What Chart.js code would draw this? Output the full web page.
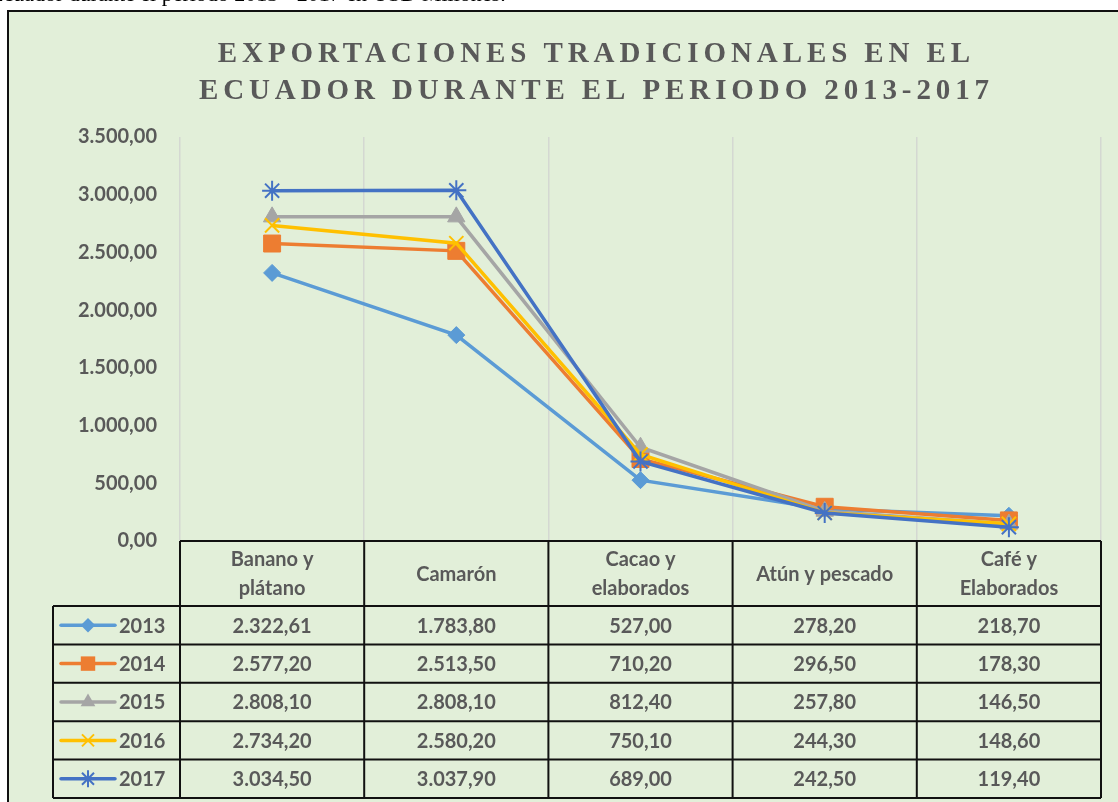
<!DOCTYPE html>
<html>
<head>
<meta charset="utf-8">
<script src="https://cdn.jsdelivr.net/npm/chart.js@4/dist/chart.umd.min.js"></script>
<style>
  html, body { margin: 0; padding: 0; background: #ffffff; }
  #wrap { position: relative; width: 1118px; height: 802px; }
</style>
</head>
<body>
<div id="wrap"><canvas id="c" width="1118" height="802"></canvas></div>
<script>
// ---------- data ----------
const categories = [["Banano y", "plátano"], ["Camarón"], ["Cacao y", "elaborados"], ["Atún y pescado"], ["Café y", "Elaborados"]];
const years = ["2013", "2014", "2015", "2016", "2017"];
const v2013 = [2322.61, 1783.80, 527.00, 278.20, 218.70];
const v2014 = [2577.20, 2513.50, 710.20, 296.50, 178.30];
const v2015 = [2808.10, 2808.10, 812.40, 257.80, 146.50];
const v2016 = [2734.20, 2580.20, 750.10, 244.30, 148.60];
const v2017 = [3034.50, 3037.90, 689.00, 242.50, 119.40];
const yTicks = [0, 500, 1000, 1500, 2000, 2500, 3000, 3500];
const titleLines = ["EXPORTACIONES TRADICIONALES EN EL", "ECUADOR DURANTE EL PERIODO 2013-2017"];
const topCaption = "Ecuador durante el periodo 2013 - 2017 en USD Millones.";

const seriesValues = [v2013, v2014, v2015, v2016, v2017];
const colors = ["#5B9BD5", "#ED7D31", "#A5A5A5", "#FFC000", "#4472C4"];
const pStyles = ["rectRot", "rect", "triangle", "crossRot", "star"];
const pRadius = [8.5, 12, 10, 10, 10];

function fmt(v) {
  const neg = v < 0;
  const s = Math.abs(v).toFixed(2);
  let [i, d] = s.split(".");
  i = i.replace(/\B(?=(\d{3})+(?!\d))/g, ".");
  return (neg ? "-" : "") + i + "," + d;
}

const FONT = '"Lato", "Open Sans", sans-serif';
const TXT = "#595959";

function drawMarker(ctx, style, x, y, r, color) {
  ctx.save();
  ctx.fillStyle = color; ctx.strokeStyle = color; ctx.lineWidth = 2;
  ctx.beginPath();
  if (style === "rectRot") {
    ctx.moveTo(x, y - r); ctx.lineTo(x + r, y); ctx.lineTo(x, y + r); ctx.lineTo(x - r, y); ctx.closePath(); ctx.fill();
  } else if (style === "rect") {
    const s = r * Math.SQRT1_2; ctx.rect(x - s, y - s, 2 * s, 2 * s); ctx.fill();
  } else if (style === "triangle") {
    ctx.moveTo(x, y - r); ctx.lineTo(x + r * 0.866, y + r * 0.5); ctx.lineTo(x - r * 0.866, y + r * 0.5); ctx.closePath(); ctx.fill();
  } else if (style === "crossRot") {
    const s = r * Math.SQRT1_2;
    ctx.moveTo(x - s, y - s); ctx.lineTo(x + s, y + s); ctx.moveTo(x + s, y - s); ctx.lineTo(x - s, y + s); ctx.stroke();
  } else if (style === "star") {
    const s = r * Math.SQRT1_2;
    ctx.moveTo(x - s, y - s); ctx.lineTo(x + s, y + s); ctx.moveTo(x + s, y - s); ctx.lineTo(x - s, y + s);
    ctx.moveTo(x, y - r); ctx.lineTo(x, y + r); ctx.moveTo(x - r, y); ctx.lineTo(x + r, y); ctx.stroke();
  }
  ctx.restore();
}

const framePlugin = {
  id: "frame",
  beforeDraw(chart) {
    const ctx = chart.ctx;
    ctx.save();
    ctx.fillStyle = "#ffffff"; ctx.fillRect(0, 0, 1118, 802);
    // cut-off caption from the page above
    ctx.fillStyle = "#000"; ctx.font = '22px "Liberation Serif", serif';
    ctx.textBaseline = "alphabetic"; ctx.textAlign = "left";
    ctx.fillText(topCaption, -10, 1);
    ctx.fillStyle = "#E2EFD9"; ctx.fillRect(8, 11, 1110, 791);
    ctx.strokeStyle = "#111"; ctx.lineWidth = 2;
    ctx.beginPath(); ctx.moveTo(8, 802); ctx.lineTo(8, 11); ctx.lineTo(1118, 11); ctx.stroke();
    // title
    ctx.fillStyle = TXT; ctx.font = 'bold 29px "Liberation Serif", serif';
    ctx.textAlign = "left";
    const ls = 4.9;
    ctx.letterSpacing = ls + "px";
    const ys = [62, 99];
    titleLines.forEach((t, i) => {
      const w = ctx.measureText(t).width - ls;
      ctx.fillText(t, 594 - w / 2, ys[i]);
    });
    ctx.letterSpacing = "0px";
    ctx.restore();
  },
  afterDraw(chart) {
    const ctx = chart.ctx;
    const ca = chart.chartArea;
    const xs = chart.scales.x;
    const n = categories.length;
    const cw = (ca.right - ca.left) / n;
    const top = ca.bottom;
    const headH = 65;
    const rowH = 38.4;
    const legL = 53;
    const bottom = top + headH + rowH * years.length;
    ctx.save();
    ctx.strokeStyle = "#111"; ctx.lineWidth = 2;
    ctx.beginPath();
    ctx.moveTo(ca.left, top); ctx.lineTo(ca.right, top);
    for (let r = 0; r <= years.length; r++) {
      const y = top + headH + r * rowH;
      ctx.moveTo(legL, y); ctx.lineTo(ca.right, y);
    }
    for (let c = 0; c <= n; c++) {
      const x = ca.left + c * cw;
      ctx.moveTo(x, top); ctx.lineTo(x, bottom);
    }
    ctx.moveTo(legL, top + headH); ctx.lineTo(legL, bottom);
    ctx.stroke();

    ctx.fillStyle = TXT;
    ctx.font = "bold 20px " + FONT;
    ctx.textAlign = "center"; ctx.textBaseline = "middle";
    categories.forEach((lines, c) => {
      const cx = xs.getPixelForValue(c);
      const cy = top + headH / 2 + 1;
      const lh = 29;
      lines.forEach((l, k) => {
        ctx.fillText(l, cx, cy + (k - (lines.length - 1) / 2) * lh);
      });
    });
    years.forEach((yr, r) => {
      const cy = top + headH + r * rowH + rowH / 2 + 1;
      seriesValues[r].forEach((v, c) => {
        ctx.fillText(fmt(v), xs.getPixelForValue(c), cy);
      });
      ctx.save();
      ctx.strokeStyle = colors[r]; ctx.lineWidth = 3.5; ctx.lineCap = "round";
      ctx.beginPath(); ctx.moveTo(61, cy - 1); ctx.lineTo(115, cy - 1); ctx.stroke();
      ctx.restore();
      drawMarker(ctx, pStyles[r], 88, cy - 1, pRadius[r] * 0.85, colors[r]);
      ctx.textAlign = "left";
      ctx.fillText(yr, 119, cy);
      ctx.textAlign = "center";
    });
    ctx.restore();
  }
};

const datasets = years.map((yr, i) => ({
  label: yr,
  data: seriesValues[i],
  borderColor: colors[i],
  backgroundColor: colors[i],
  borderWidth: 3.5,
  pointStyle: pStyles[i],
  pointRadius: pRadius[i],
  pointHoverRadius: pRadius[i],
  pointBorderWidth: (pStyles[i] === "crossRot" || pStyles[i] === "star") ? 2 : 1,
  pointBackgroundColor: colors[i],
  pointBorderColor: colors[i],
  tension: 0,
  fill: false,
  order: years.length - i
}));

new Chart(document.getElementById("c"), {
  type: "line",
  data: { labels: categories.map(c => c.join(" ")), datasets },
  options: {
    responsive: false,
    animation: false,
    events: [],
    layout: { padding: { left: 8, top: 137, right: 17, bottom: 261 } },
    plugins: { legend: { display: false }, title: { display: false }, tooltip: { enabled: false } },
    scales: {
      x: {
        type: "category",
        offset: true,
        grid: { display: true, offset: true, color: "#D4D8D2", lineWidth: 1.5, drawTicks: false },
        border: { display: false },
        ticks: { display: false },
        afterFit(s) { s.height = 0; }
      },
      y: {
        min: 0, max: 3500,
        afterBuildTicks(s) { s.ticks = yTicks.map(v => ({ value: v })); },
        grid: { display: false, drawTicks: false },
        border: { display: false },
        ticks: {
          padding: 23,
          color: TXT,
          font: { family: FONT, size: 20, weight: "bold" },
          callback: (v) => fmt(v)
        },
        afterFit(s) { s.width = 172; }
      }
    }
  },
  plugins: [framePlugin]
});
</script>
</body>
</html>
